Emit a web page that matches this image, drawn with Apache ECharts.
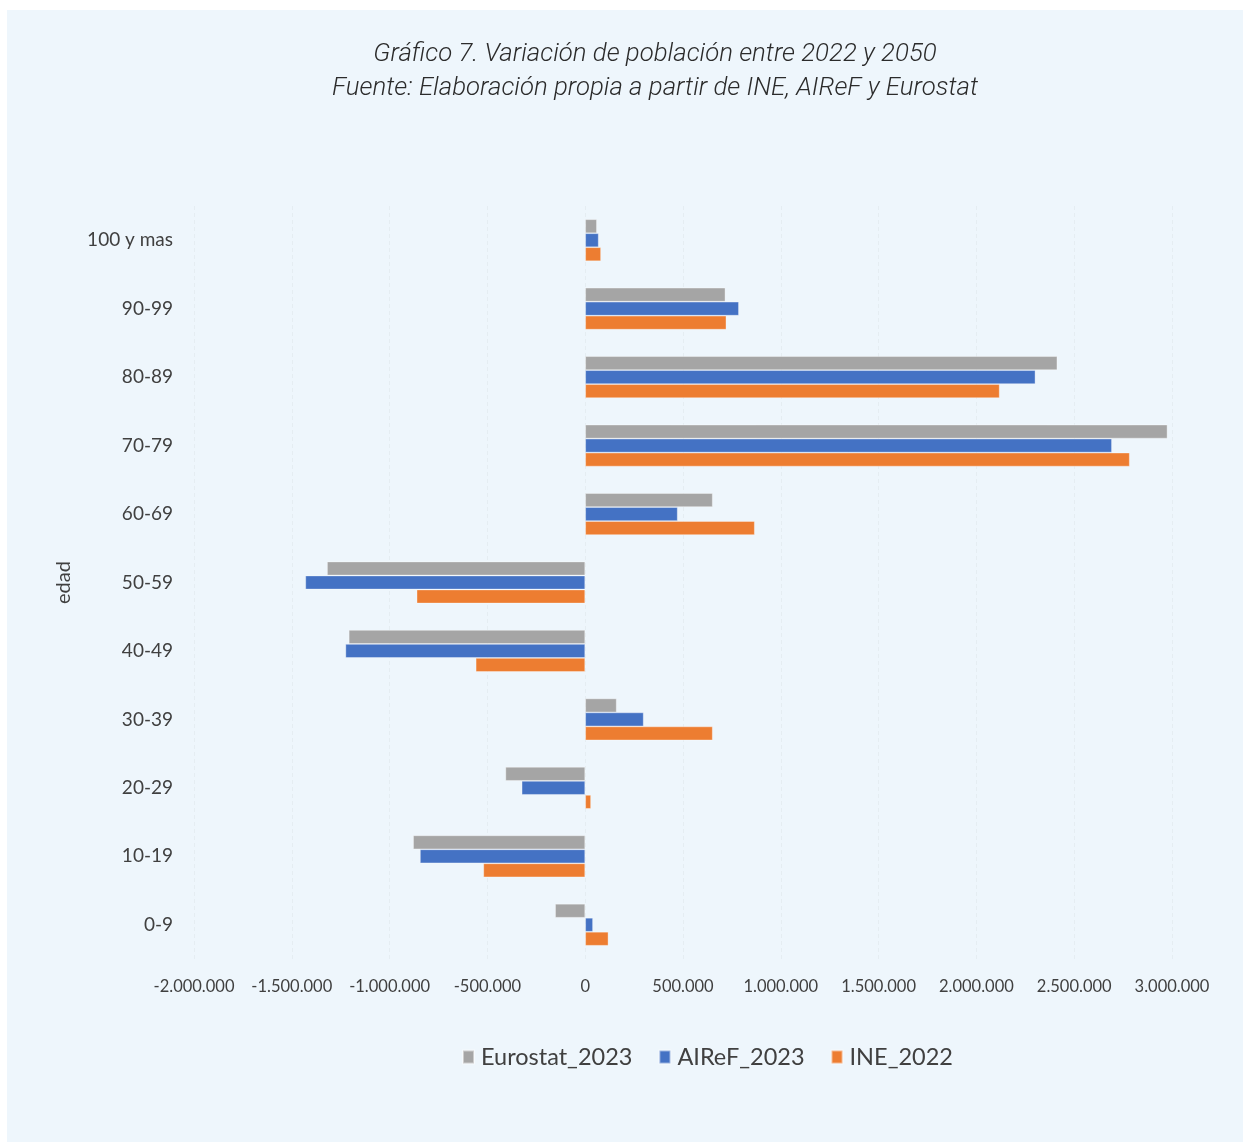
<!DOCTYPE html>
<html>
<head>
<meta charset="utf-8">
<title>Variación de población entre 2022 y 2050</title>
<script src="https://cdn.jsdelivr.net/npm/echarts@6/dist/echarts.min.js"></script>
<style>
  html, body { margin: 0; padding: 0; background: #ffffff; }
  #chart { width: 1250px; height: 1145px; }
</style>
</head>
<body>
<div id="chart"></div>
<script>
// Age groups, bottom to top on the category axis
const ageGroups = ['0-9', '10-19', '20-29', '30-39', '40-49', '50-59', '60-69', '70-79', '80-89', '90-99', '100 y mas'];

// Population change 2022 → 2050 by source (persons)
const eurostat2023 = [-154000, -880000, -408000, 161000, -1209000, -1320000, 652000, 2977000, 2414000, 717000, 60000];
const airef2023    = [40000, -845000, -325000, 299000, -1226000, -1431000, 473000, 2693000, 2302000, 786000, 69000];
const ine2022      = [119000, -521000, 30000, 652000, -560000, -862000, 867000, 2784000, 2119000, 722000, 81000];

const seriesNames = ['Eurostat_2023', 'AIReF_2023', 'INE_2022'];
const seriesColors = ['#a5a5a5', '#4472c4', '#ed7d31'];

const xMin = -2000000, xMax = 3000000, xStep = 500000;

function formatThousands(v) {
  const neg = v < 0;
  const s = String(Math.abs(Math.round(v)));
  const out = s.replace(/\B(?=(\d{3})+(?!\d))/g, '.');
  return (neg ? '-' : '') + out;
}

const chart = echarts.init(document.getElementById('chart'), null, { renderer: 'canvas' });

const labelFont = 'Lato, "Noto Sans", sans-serif';
const valuesBySeries = [eurostat2023, airef2023, ine2022];

const option = {
  backgroundColor: '#ffffff',
  animation: false,
  graphic: [{
    type: 'rect',
    z: -10,
    shape: { x: 7, y: 10, width: 1236, height: 1132 },
    style: { fill: '#eef6fc' }
  }],
  title: {
    text: 'Gráfico 7. Variación de población entre 2022 y 2050\nFuente: Elaboración propia a partir de INE, AIReF y Eurostat',
    left: 650,
    textAlign: 'center',
    top: 33,
    textStyle: {
      fontFamily: 'Roboto, "Liberation Sans", sans-serif',
      fontStyle: 'italic',
      fontWeight: 300,
      fontSize: 25.8,
      lineHeight: 34,
      color: '#2b2b2b'
    }
  },
  legend: {
    data: seriesNames,
    left: 457,
    top: 1040,
    itemWidth: 11,
    itemHeight: 13,
    itemGap: 26,
    icon: 'rect',
    textStyle: {
      fontFamily: labelFont,
      fontSize: 23.5,
      color: '#404040',
      padding: [0, 0, 0, 2]
    }
  },
  grid: {
    left: 194,
    right: 78,
    top: 206,
    bottom: 186,
    containLabel: false
  },
  xAxis: {
    type: 'value',
    min: xMin,
    max: xMax,
    interval: xStep,
    axisLine: { show: false },
    axisTick: { show: false },
    splitLine: {
      show: true,
      lineStyle: { color: '#e5edf2', type: [4, 3], width: 1 }
    },
    axisLabel: {
      formatter: formatThousands,
      fontFamily: labelFont,
      fontSize: 16.5,
      color: '#404040',
      margin: 19
    }
  },
  yAxis: {
    type: 'category',
    data: ageGroups,
    name: 'edad',
    nameLocation: 'middle',
    nameRotate: 90,
    nameGap: 120,
    nameTextStyle: {
      fontFamily: labelFont,
      fontSize: 20,
      color: '#404040'
    },
    axisLine: { show: false },
    axisTick: { show: false },
    splitLine: { show: false },
    axisLabel: {
      fontFamily: labelFont,
      fontSize: 19,
      color: '#404040',
      margin: 21
    }
  },
  series: seriesNames.map((name, i) => ({
    name: name,
    type: 'bar',
    data: valuesBySeries[i],
    barWidth: 14,
    barGap: '0%',
    itemStyle: {
      color: seriesColors[i],
      borderColor: 'rgba(255,255,255,0.45)',
      borderWidth: 0.8
    }
  }))
};

chart.setOption(option);
</script>
</body>
</html>
